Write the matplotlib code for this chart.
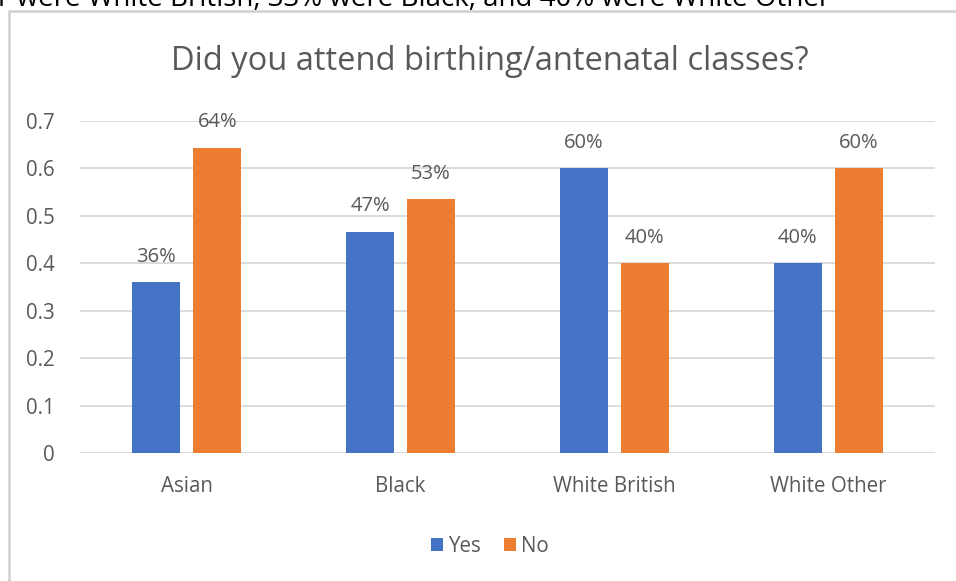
import matplotlib
matplotlib.use("Agg")
import matplotlib.pyplot as plt
import numpy as np
from matplotlib.patches import Rectangle

categories = ["Asian", "Black", "White British", "White Other"]
yes_vals = [0.36, 0.467, 0.60, 0.40]
no_vals = [0.644, 0.535, 0.40, 0.60]
yes_labels = ["36%", "47%", "60%", "40%"]
no_labels = ["64%", "53%", "40%", "60%"]
yticks = [0, 0.1, 0.2, 0.3, 0.4, 0.5, 0.6, 0.7]
ytick_labels = ["0", "0.1", "0.2", "0.3", "0.4", "0.5", "0.6", "0.7"]

plt.rcParams['font.family'] = ['Open Sans', 'DejaVu Sans']
TXT = '#595959'
BLUE = '#4472C4'
ORANGE = '#ED7D31'

fig = plt.figure(figsize=(9.56, 5.81), dpi=100)
fig.patch.set_facecolor('white')

# chart frame
fig.patches.append(Rectangle((9/956, -0.05), 1.1, 1 - 11/581 + 0.05, transform=fig.transFigure,
                             fill=False, edgecolor='#d0d0d0', linewidth=1.8))
# clipped text from the document above
fig.text(-2/956, 1 - 6/581, "r were White British, 33% were Black, and 40% were White Other",
         fontsize=20, color='black', ha='left', va='baseline')

ax = fig.add_axes([80/956, 1 - 453/581, 855/956, (453 - 121)/581])
x = np.arange(len(categories))
w = 0.225
off = w / 2 + 0.03
b1 = ax.bar(x - off, yes_vals, w, color=BLUE, label='Yes', zorder=3)
b2 = ax.bar(x + off, no_vals, w, color=ORANGE, label='No', zorder=3)
for rect, lab in zip(b1, yes_labels):
    ax.text(rect.get_x() + rect.get_width() / 2, rect.get_height() + 0.032, lab,
            ha='center', va='bottom', fontsize=14.5, color=TXT)
for rect, lab in zip(b2, no_labels):
    ax.text(rect.get_x() + rect.get_width() / 2, rect.get_height() + 0.032, lab,
            ha='center', va='bottom', fontsize=14.5, color=TXT)

ax.set_xlim(-0.5, len(categories) - 0.5)
ax.set_ylim(0, 0.7)
ax.set_yticks(yticks)
ax.set_yticklabels(ytick_labels)
ax.set_xticks(x)
ax.set_xticklabels(categories)
ax.tick_params(axis='both', length=0, labelsize=14.8, labelcolor=TXT)
ax.tick_params(axis='y', pad=18)
ax.tick_params(axis='x', pad=16.5)
ax.grid(axis='y', color='#d9d9d9', linewidth=1.3, zorder=0)
for s in ax.spines.values():
    s.set_visible(False)

fig.text(490/956, 1 - 62/581, "Did you attend birthing/antenatal classes?",
         ha='center', va='center', fontsize=23.5, color=TXT)

fig.legend(handles=[b1, b2], labels=['Yes', 'No'], loc='center', ncol=2,
           bbox_to_anchor=(490/956, 1 - 546/581), frameon=False, fontsize=14.8,
           handlelength=0.6, handleheight=0.6, handletextpad=0.25, columnspacing=1.1,
           labelcolor=TXT)

fig.savefig('out.png', dpi=100)
